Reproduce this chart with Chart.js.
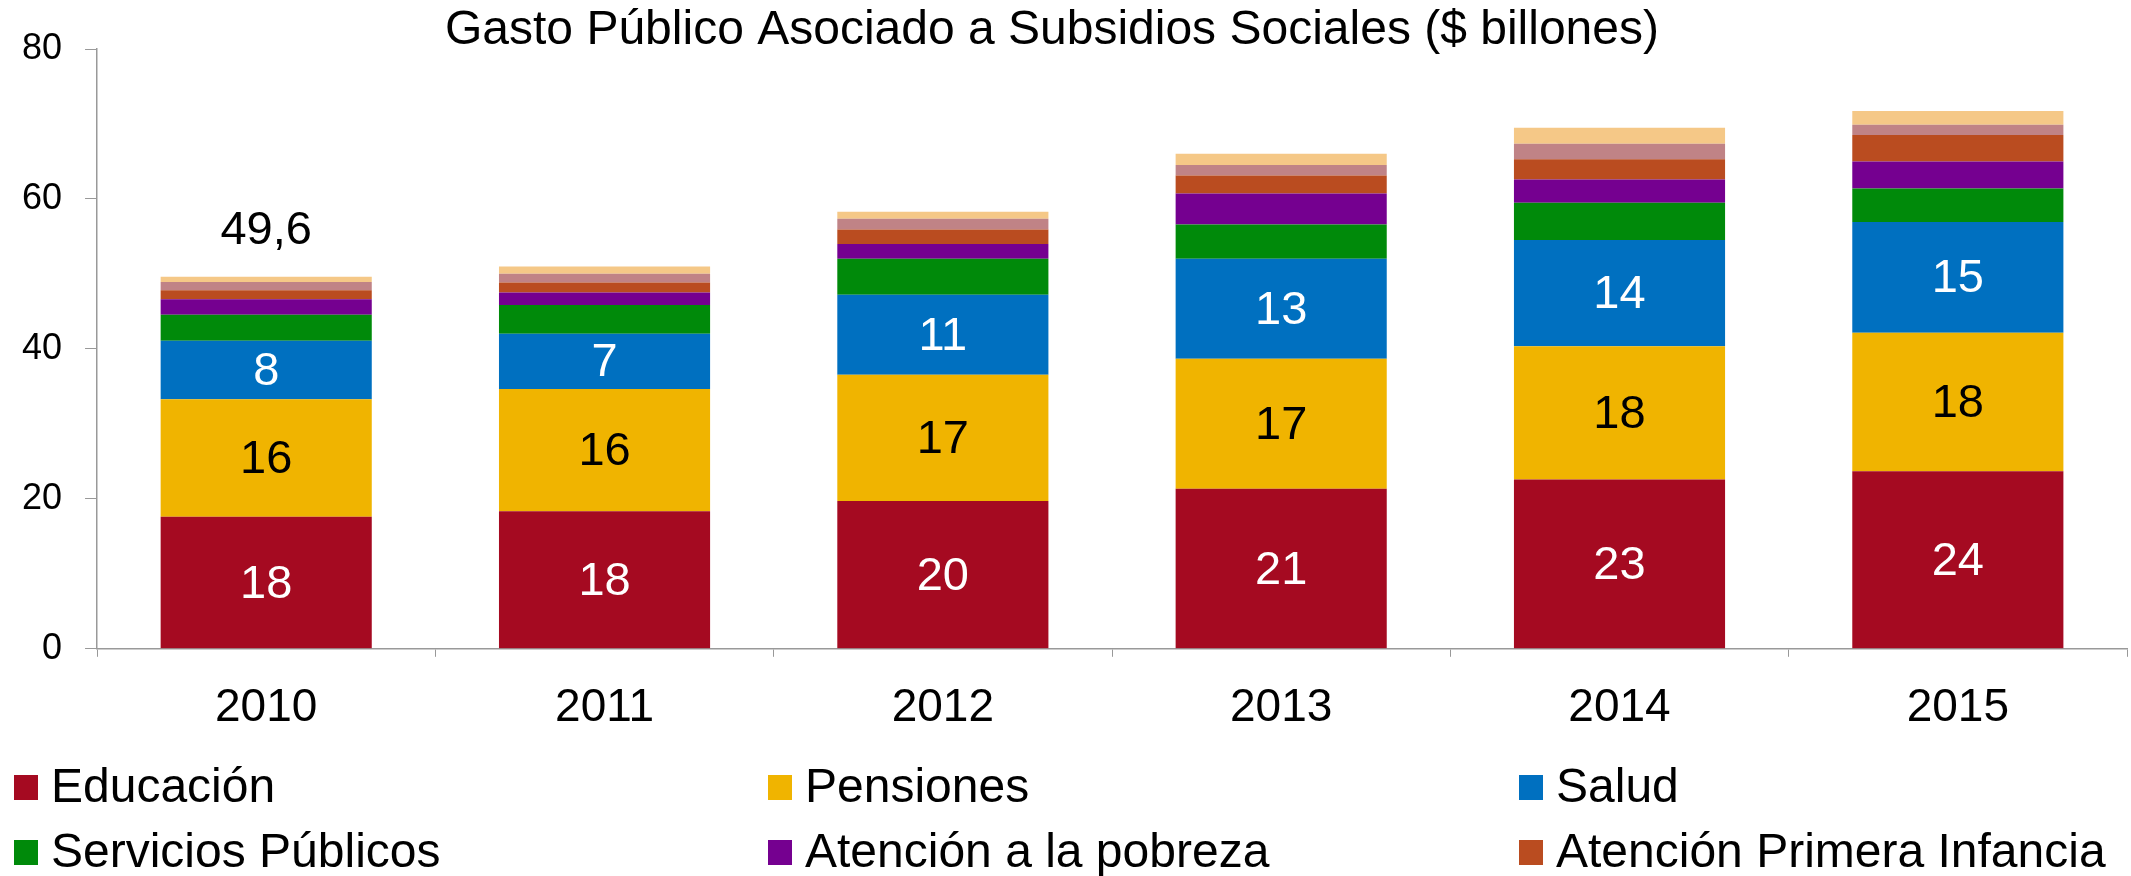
<!DOCTYPE html>
<html>
<head>
<meta charset="utf-8">
<script src="https://cdn.jsdelivr.net/npm/chart.js@4/dist/chart.umd.min.js"></script>
<style>
  body { margin: 0; background: #fff; }
  canvas { display: block; }
</style>
</head>
<body>
<canvas id="chart" width="2131" height="876"></canvas>
<script>
var years = ['2010', '2011', '2012', '2013', '2014', '2015'];

var educacion = [17.6, 18.36, 19.7, 21.34, 22.59, 23.67];
var pensiones = [15.7, 16.29, 16.84, 17.35, 17.76, 18.49];
var salud = [7.8, 7.37, 10.68, 13.34, 14.17, 14.76];
var serviciosPublicos = [3.47, 3.83, 4.81, 4.57, 4.98, 4.49];
var atencionPobreza = [2.04, 1.68, 1.96, 4.14, 3.11, 3.6];
var primeraInfancia = [1.2, 1.34, 1.95, 2.4, 2.67, 3.52];
var vivienda = [1.12, 1.16, 1.42, 1.39, 2.09, 1.37];
var otros = [0.68, 0.97, 0.94, 1.51, 2.13, 1.83];

var totalLabels = ['49,6', '', '', '', '', ''];
var yTicks = [0, 20, 40, 60, 80];

var chartTitle = 'Gasto Público Asociado a Subsidios Sociales ($ billones)';
var FONT = '"Liberation Sans", Arial, sans-serif';

var colors = {
  red: '#A50A21',
  yellow: '#F0B400',
  blue: '#0070C0',
  green: '#008A0A',
  purple: '#750090',
  brown: '#BA4C20',
  pink: '#C08386',
  peach: '#F5C887'
};

function ds(label, color, values) {
  return {
    label: label,
    data: values,
    backgroundColor: color,
    borderWidth: 0,
    barPercentage: 0.624,
    categoryPercentage: 1
  };
}

var data = {
  labels: years,
  datasets: [
    ds('Educación', colors.red, educacion),
    ds('Pensiones', colors.yellow, pensiones),
    ds('Salud', colors.blue, salud),
    ds('Servicios Públicos', colors.green, serviciosPublicos),
    ds('Atención a la pobreza', colors.purple, atencionPobreza),
    ds('Atención Primera Infancia', colors.brown, primeraInfancia),
    ds('Vivienda', colors.pink, vivienda),
    ds('Otros', colors.peach, otros)
  ]
};

// numbers inside the first three segments, plus total above 2010
var labelColors = ['#fff', '#000', '#fff'];
var valueLabels = {
  id: 'valueLabels',
  afterDatasetsDraw: function(chart) {
    var ctx = chart.ctx;
    ctx.save();
    ctx.textAlign = 'center';
    ctx.textBaseline = 'middle';
    ctx.font = '47px ' + FONT;
    for (var i = 0; i < 3; i++) {
      var meta = chart.getDatasetMeta(i);
      ctx.fillStyle = labelColors[i];
      meta.data.forEach(function(bar, j) {
        var v = chart.data.datasets[i].data[j];
        ctx.fillText(Math.round(v), bar.x, (bar.y + bar.base) / 2 + 2);
      });
    }
    var last = chart.getDatasetMeta(chart.data.datasets.length - 1);
    ctx.fillStyle = '#000';
    last.data.forEach(function(bar, j) {
      if (totalLabels[j]) ctx.fillText(totalLabels[j], bar.x, bar.y - 46);
    });
    ctx.restore();
  }
};

// title, slightly left of canvas centre like the original
var titlePlugin = {
  id: 'titlePlugin',
  afterDraw: function(chart) {
    var ctx = chart.ctx;
    ctx.save();
    ctx.font = '48px ' + FONT;
    ctx.fillStyle = '#000';
    ctx.textAlign = 'center';
    ctx.textBaseline = 'middle';
    ctx.fillText(chartTitle, 1052, 31);
    ctx.restore();
  }
};

// legend in a 3 column grid, only the first six series
var gridLegend = {
  id: 'gridLegend',
  afterDraw: function(chart) {
    var ctx = chart.ctx;
    var cols = [14, 768, 1519];
    var rows = [787, 852];
    ctx.save();
    ctx.font = '48px ' + FONT;
    ctx.textBaseline = 'middle';
    ctx.textAlign = 'left';
    for (var i = 0; i < 6; i++) {
      var d = chart.data.datasets[i];
      var x = cols[i % 3], y = rows[Math.floor(i / 3)];
      ctx.fillStyle = d.backgroundColor;
      ctx.fillRect(x, y - 12, 24, 25);
      ctx.fillStyle = '#000';
      ctx.fillText(d.label, x + 37, y + 2);
    }
    ctx.restore();
  }
};

new Chart(document.getElementById('chart').getContext('2d'), {
  type: 'bar',
  data: data,
  plugins: [valueLabels, titlePlugin, gridLegend],
  options: {
    responsive: false,
    animation: false,
    devicePixelRatio: 1,
    layout: { padding: { left: -1, right: 4, top: 49, bottom: 116 } },
    plugins: {
      legend: { display: false },
      tooltip: { enabled: false },
      title: { display: false }
    },
    scales: {
      x: {
        stacked: true,
        border: { color: '#999', width: 1.5 },
        grid: { drawOnChartArea: false, drawTicks: true, tickLength: 8, color: '#999', offset: true },
        ticks: { color: '#000', font: { family: FONT, size: 46 }, padding: 24 }
      },
      y: {
        stacked: true,
        min: yTicks[0],
        max: yTicks[yTicks.length - 1],
        border: { color: '#999', width: 1.5 },
        grid: { drawOnChartArea: false, drawTicks: true, tickLength: 12, color: '#999' },
        ticks: { stepSize: 20, color: '#000', font: { family: FONT, size: 36 }, padding: 23 }
      }
    }
  }
});
</script>
</body>
</html>
